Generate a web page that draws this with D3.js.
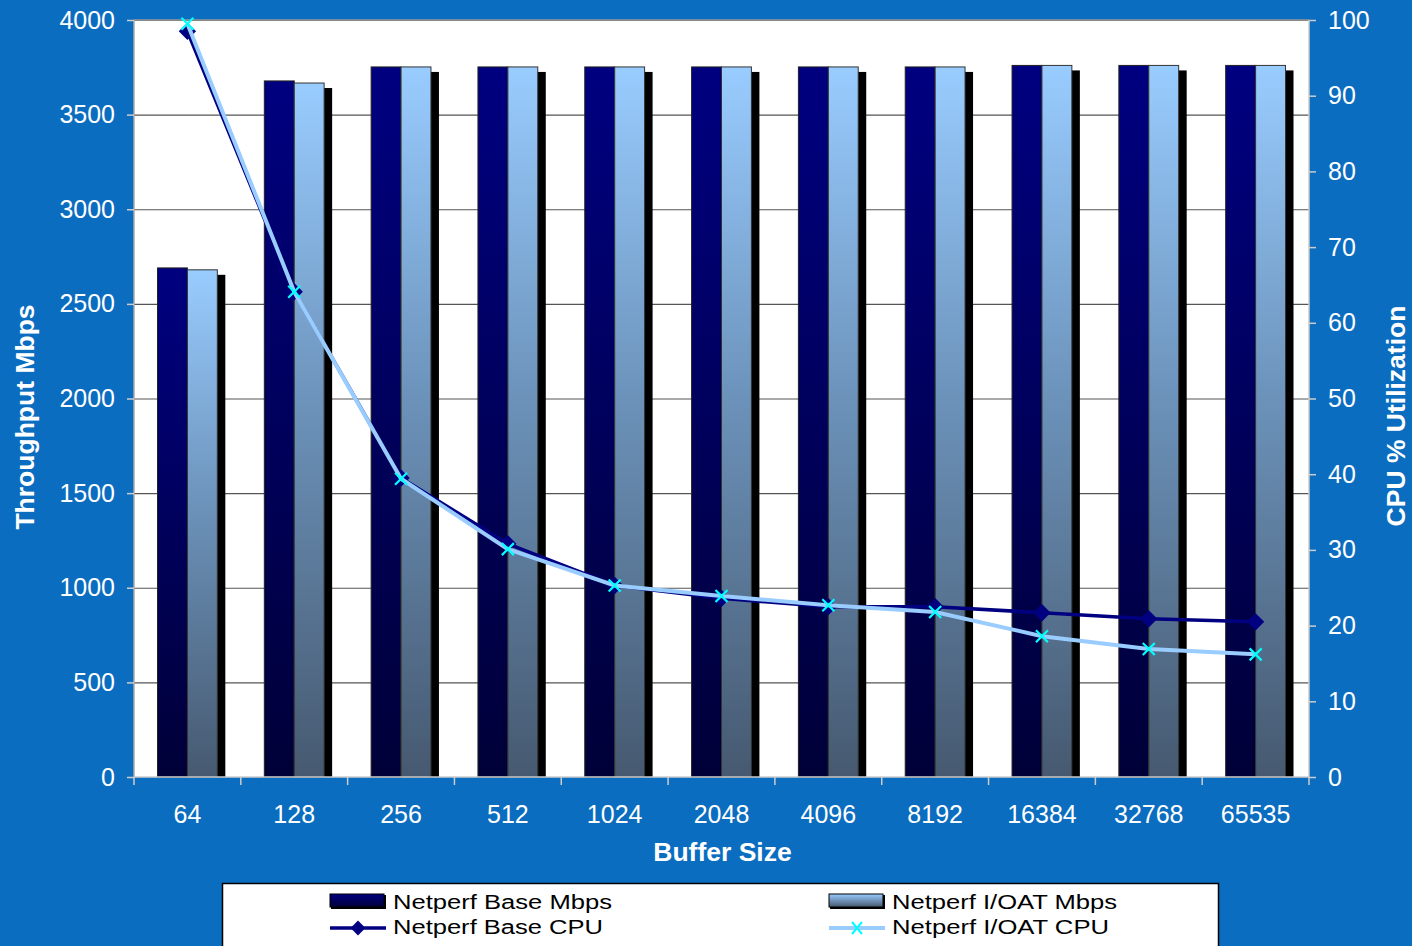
<!DOCTYPE html>
<html><head><meta charset="utf-8">
<script src="https://cdn.jsdelivr.net/npm/d3@7"></script>
<style>
html,body{margin:0;padding:0;background:#0B6DBF;}
svg{display:block;font-family:"Liberation Sans",Arial,sans-serif;}
</style></head><body>
<svg id="chart" width="1412" height="946"></svg>
<script>
const categories = ["64","128","256","512","1024","2048","4096","8192","16384","32768","65535"];
const baseMbps  = [2690,3678,3752,3752,3752,3752,3752,3752,3760,3760,3760];
const ioatMbps  = [2680,3667,3752,3752,3752,3752,3752,3752,3760,3760,3760];
const baseCPU   = [98.5,64.1,39.5,30.8,25.3,23.6,22.5,22.5,21.7,20.9,20.5];
const ioatCPU   = [99.5,64.1,39.4,30.1,25.3,23.9,22.7,21.8,18.6,16.9,16.2];
const leftTicks = [0,500,1000,1500,2000,2500,3000,3500,4000];
const rightTicks = [0,10,20,30,40,50,60,70,80,90,100];
const seriesNames = ["Netperf Base Mbps","Netperf I/OAT Mbps","Netperf Base CPU","Netperf I/OAT CPU"];

const svg = d3.select("#chart");
const W = 1412, H = 946;
const L = 134, R = 1309, T = 20, B = 777;
svg.append("rect").attr("width",W).attr("height",H).attr("fill","#0B6DBF");

const defs = svg.append("defs");
const g1 = defs.append("linearGradient").attr("id","gBase").attr("x1",0).attr("y1",0).attr("x2",0).attr("y2",1);
g1.append("stop").attr("offset","0%").attr("stop-color","#000080");
g1.append("stop").attr("offset","100%").attr("stop-color","#000038");
const g2 = defs.append("linearGradient").attr("id","gIoat").attr("x1",0).attr("y1",0).attr("x2",0).attr("y2",1);
g2.append("stop").attr("offset","0%").attr("stop-color","#99CCFF");
g2.append("stop").attr("offset","45%").attr("stop-color","#6D94BC");
g2.append("stop").attr("offset","100%").attr("stop-color","#465970");
const g3 = defs.append("linearGradient").attr("id","gIoatLeg").attr("x1",0).attr("y1",0).attr("x2",0).attr("y2",1);
g3.append("stop").attr("offset","0%").attr("stop-color","#99CCFF");
g3.append("stop").attr("offset","100%").attr("stop-color","#465970");

const x = d3.scaleBand().domain(categories).range([L,R]).padding(0);
const yL = d3.scaleLinear().domain([0,4000]).range([B,T]);
const yR = d3.scaleLinear().domain([0,100]).range([B,T]);

// plot area
svg.append("rect").attr("x",L).attr("y",T).attr("width",R-L).attr("height",B-T).attr("fill","#fff");
// gridlines
svg.append("g").selectAll("line").data(leftTicks.filter(d=>d>0)).join("line")
  .attr("x1",L).attr("x2",R).attr("y1",d=>yL(d)+0.5).attr("y2",d=>yL(d)+0.5)
  .attr("stroke","#555").attr("stroke-width",1.2);

const bw = x.bandwidth()*0.28;
const cx = d => x(d)+x.bandwidth()/2;
const dx = 8, dy = 5;
const barsG = svg.append("g");
// shadows
categories.forEach((c,i)=>{
  [[cx(c)-bw,baseMbps[i]],[cx(c),ioatMbps[i]]].forEach(([xx,v])=>{
    barsG.append("rect").attr("x",xx+dx).attr("y",yL(v)+dy).attr("width",bw).attr("height",B-yL(v)-dy).attr("fill","#000");
  });
});
categories.forEach((c,i)=>{
  barsG.append("rect").attr("x",cx(c)-bw).attr("y",yL(baseMbps[i])).attr("width",bw).attr("height",B-yL(baseMbps[i]))
    .attr("fill","url(#gBase)").attr("stroke","#222").attr("stroke-width",1);
  barsG.append("rect").attr("x",cx(c)).attr("y",yL(ioatMbps[i])).attr("width",bw).attr("height",B-yL(ioatMbps[i]))
    .attr("fill","url(#gIoat)").attr("stroke","#333").attr("stroke-width",1);
});

// axes frame
svg.append("line").attr("x1",L).attr("x2",R).attr("y1",T).attr("y2",T).attr("stroke","#999").attr("stroke-width",1.5);
svg.append("line").attr("x1",L).attr("x2",L).attr("y1",T).attr("y2",B).attr("stroke","#aaa").attr("stroke-width",1.5);
svg.append("line").attr("x1",R).attr("x2",R).attr("y1",T).attr("y2",B).attr("stroke","#ccc").attr("stroke-width",1.5);
svg.append("line").attr("x1",L).attr("x2",R).attr("y1",B).attr("y2",B).attr("stroke","#ccc").attr("stroke-width",1.5);

// axes
const axL = d3.axisLeft(yL).tickValues(leftTicks).tickFormat(d3.format("d")).tickSize(7).tickPadding(12);
const gL = svg.append("g").attr("transform",`translate(${L},0)`).call(axL);
const axR = d3.axisRight(yR).tickValues(rightTicks).tickFormat(d3.format("d")).tickSize(7).tickPadding(12);
const gR = svg.append("g").attr("transform",`translate(${R},0)`).call(axR);
const axB = d3.axisBottom(x).tickSize(0).tickPadding(28);
const gB = svg.append("g").attr("transform",`translate(0,${B})`).call(axB);
[gL,gR,gB].forEach(g=>{
  g.select(".domain").remove();
  g.selectAll(".tick line").attr("stroke","#ccc").attr("stroke-width",1.5);
  g.selectAll("text").attr("fill","#fff").style("font-size","25px").style("font-family","'Liberation Sans',Arial,sans-serif");
});
// x category boundary ticks
svg.append("g").selectAll("line").data(categories.concat(["end"])).join("line")
  .attr("x1",(d,i)=>L+i*x.bandwidth()).attr("x2",(d,i)=>L+i*x.bandwidth())
  .attr("y1",B).attr("y2",B+8).attr("stroke","#ccc").attr("stroke-width",1.5);

// lines
const lineB = d3.line().x((d,i)=>cx(categories[i])).y(d=>yR(d));
svg.append("path").datum(baseCPU).attr("d",lineB).attr("fill","none").attr("stroke","#000080").attr("stroke-width",3.5);
svg.append("g").selectAll("path").data(baseCPU).join("path")
  .attr("d",d3.symbol().type(d3.symbolSquare).size(150))
  .attr("transform",(d,i)=>`translate(${cx(categories[i])},${yR(d)}) rotate(45)`)
  .attr("fill","#000080");
svg.append("path").datum(ioatCPU).attr("d",lineB).attr("fill","none").attr("stroke","#99CCFF").attr("stroke-width",4);
svg.append("g").selectAll("path").data(ioatCPU).join("path")
  .attr("d","M-6,-6L6,6M-6,6L6,-6")
  .attr("transform",(d,i)=>`translate(${cx(categories[i])},${yR(d)})`)
  .attr("stroke","#00FFFF").attr("stroke-width",2.2).attr("fill","none");

// axis titles
svg.append("text").attr("transform",`translate(34,417) rotate(-90)`).attr("text-anchor","middle")
  .attr("fill","#fff").style("font-size","26.5px").style("font-weight","bold").text("Throughput Mbps");
svg.append("text").attr("transform",`translate(1405,416) rotate(-90)`).attr("text-anchor","middle")
  .attr("fill","#fff").style("font-size","26.5px").style("font-weight","bold").text("CPU % Utilization");
svg.append("text").attr("x",(L+R)/2+1).attr("y",861).attr("text-anchor","middle")
  .attr("fill","#fff").style("font-size","26.5px").style("font-weight","bold").text("Buffer Size");

// legend
const lg = svg.append("g");
lg.append("rect").attr("x",222.5).attr("y",883.5).attr("width",996).attr("height",80).attr("fill","#fff").attr("stroke","#000").attr("stroke-width",1.5);
const cols = [330, 829];
const rows = [901, 926];
const textW = [219, 225, 210, 217];
const items = [
  {col:0,row:0,type:"bar",fill:"url(#gBase)"},
  {col:1,row:0,type:"bar",fill:"url(#gIoatLeg)"},
  {col:0,row:1,type:"lineD"},
  {col:1,row:1,type:"lineX"}
];
items.forEach((it,k)=>{
  const x0 = cols[it.col], y0 = rows[it.row];
  if(it.type==="bar"){
    lg.append("rect").attr("x",x0+1).attr("y",y0-6).attr("width",55).attr("height",14).attr("fill","#000");
    lg.append("rect").attr("x",x0).attr("y",y0-7).attr("width",54).attr("height",13).attr("fill",it.fill).attr("stroke","#000").attr("stroke-width",1);
  } else if(it.type==="lineD"){
    lg.append("line").attr("x1",x0).attr("x2",x0+56).attr("y1",y0+2).attr("y2",y0+2).attr("stroke","#000080").attr("stroke-width",3.5);
    lg.append("path").attr("d",d3.symbol().type(d3.symbolSquare).size(110)).attr("transform",`translate(${x0+28},${y0+2}) rotate(45)`).attr("fill","#000080");
  } else {
    lg.append("line").attr("x1",x0).attr("x2",x0+56).attr("y1",y0+2).attr("y2",y0+2).attr("stroke","#99CCFF").attr("stroke-width",4);
    lg.append("path").attr("d","M-5,-6L5,6M-5,6L5,-6").attr("transform",`translate(${x0+28},${y0+2})`).attr("stroke","#00FFFF").attr("stroke-width",2).attr("fill","none");
  }
  lg.append("text").attr("x",x0+63).attr("y",y0+8).attr("fill","#000").style("font-size","20px")
    .attr("textLength",textW[k]).attr("lengthAdjust","spacingAndGlyphs").text(seriesNames[k]);
});
</script>
</body></html>
